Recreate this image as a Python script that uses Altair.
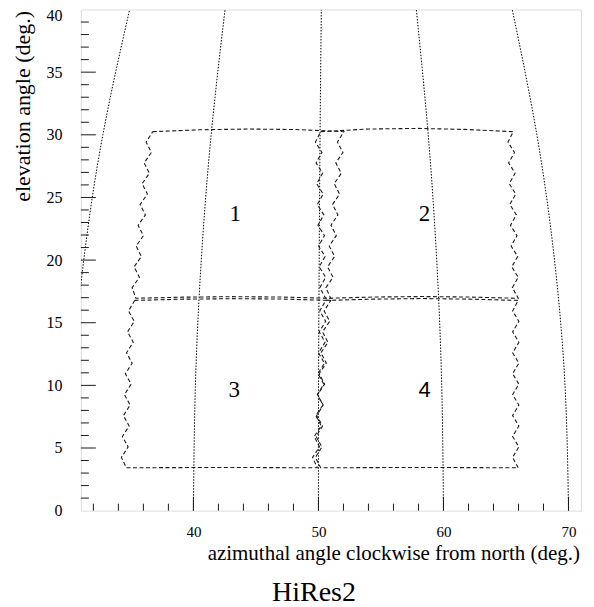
import altair as alt
import pandas as pd

# ---------------- data ----------------
# dotted guide curves (azimuth at given elevations)
CURVE_ELEV = [0, 10, 20, 30, 40]
CURVE_30 = [30.0, 30.31, 31.23, 32.76, 34.90]
CURVE_40 = [40.0, 40.16, 40.63, 41.42, 42.53]
CURVE_50 = [50.0, 50.01, 50.06, 50.13, 50.23]
CURVE_60 = [60.0, 59.86, 59.46, 58.78, 57.83]
CURVE_70 = [70.0, 69.72, 68.88, 67.47, 65.50]

# mirror field-of-view outlines (zig-zag side edges)
UPPER_ELEV = [30.25, 29.42, 28.59, 27.76, 26.93, 26.10, 25.27, 24.44, 23.61,
              22.78, 21.95, 21.12, 20.29, 19.46, 18.63, 17.80, 16.95]
LOWER_ELEV = [16.78, 15.94, 15.11, 14.27, 13.44, 12.60, 11.77, 10.93, 10.10,
              9.26, 8.43, 7.59, 6.76, 5.92, 5.09, 4.25, 3.42]

BOX1_LEFT = [36.75, 36.22, 36.64, 36.06, 36.48, 35.90, 36.32, 35.74, 36.16,
             35.58, 36.00, 35.42, 35.84, 35.26, 35.68, 35.10, 35.40]
BOX1_RIGHT = [52.04, 51.52, 51.96, 51.39, 51.83, 51.26, 51.69, 51.13, 51.56,
              51.00, 51.43, 50.86, 51.30, 50.73, 51.17, 50.60, 50.98]
BOX2_LEFT = [50.18, 49.76, 50.28, 49.81, 50.33, 49.86, 50.38, 49.91, 50.43,
             49.96, 50.48, 50.01, 50.53, 50.06, 50.58, 50.11, 50.58]
BOX2_RIGHT = [65.58, 65.16, 65.68, 65.21, 65.73, 65.26, 65.78, 65.31, 65.83,
              65.36, 65.88, 65.41, 65.93, 65.46, 65.98, 65.51, 65.98]
BOX3_LEFT = [35.30, 34.81, 35.27, 34.73, 35.19, 34.65, 35.10, 34.56, 35.02,
             34.48, 34.94, 34.40, 34.86, 34.32, 34.78, 34.24, 34.64]
BOX3_RIGHT = [50.98, 50.46, 50.90, 50.33, 50.76, 50.20, 50.63, 50.06, 50.49,
              49.93, 50.36, 49.79, 50.23, 49.66, 50.09, 49.53, 49.91]
BOX4_LEFT = [50.58, 50.11, 50.58, 50.06, 50.53, 50.01, 50.48, 49.96, 50.43,
             49.91, 50.38, 49.86, 50.33, 49.81, 50.28, 49.76, 50.18]
BOX4_RIGHT = [65.98, 65.53, 66.03, 65.53, 66.03, 65.53, 66.03, 65.53, 66.03,
              65.53, 66.03, 65.53, 66.03, 65.53, 66.03, 65.53, 65.98]

BOX1_TOP_AZ, BOX1_TOP_EL = [40.5, 44.4, 48.2], [30.40, 30.46, 30.42]
BOX1_BOT_AZ, BOX1_BOT_EL = [39.2, 43.1, 47.0], [17.04, 17.08, 17.05]
BOX2_TOP_AZ, BOX2_TOP_EL = [54.0, 57.9, 61.7], [30.46, 30.51, 30.43]
BOX2_BOT_AZ, BOX2_BOT_EL = [54.4, 58.3, 62.1], [17.05, 17.09, 17.05]
BOX3_TOP_AZ, BOX3_TOP_EL = [39.2, 43.1, 47.0], [16.88, 16.92, 16.89]
BOX3_BOT_AZ, BOX3_BOT_EL = [42.3], [3.45]
BOX4_TOP_AZ, BOX4_TOP_EL = [54.4, 58.3, 62.1], [16.88, 16.93, 16.88]
BOX4_BOT_AZ, BOX4_BOT_EL = [58.1], [3.45]

# mirror numbers
NUM_TEXT = ["1", "2", "3", "4"]
NUM_AZ = [43.35, 58.49, 43.27, 58.49]
NUM_EL = [23.14, 23.14, 9.09, 9.09]
NUM_SANS = [False, False, False, True]

# axis ticks / labels
X_LABELS = [40, 50, 60, 70]
X_MAJOR = [40, 50, 60, 70]
X_MINOR = [32, 34, 36, 38, 42, 44, 46, 48, 52, 54, 56, 58, 62, 64, 66, 68]
Y_LABELS = [0, 5, 10, 15, 20, 25, 30, 35, 40]
Y_MAJOR = [5, 10, 15, 20, 25, 30, 35]
Y_MINOR = [1, 2, 3, 4, 6, 7, 8, 9, 11, 12, 13, 14, 16, 17, 18, 19, 21, 22, 23,
           24, 26, 27, 28, 29, 31, 32, 33, 34, 36, 37, 38, 39]

# ---------------- build tables ----------------
curve_rows = []
for name, xs in [("30", CURVE_30), ("40", CURVE_40), ("50", CURVE_50),
                 ("60", CURVE_60), ("70", CURVE_70)]:
    for i, (a, e) in enumerate(zip(xs, CURVE_ELEV)):
        curve_rows.append({"curve": name, "idx": i, "az": a, "elev": e})
curve_df = pd.DataFrame(curve_rows)


def ring(left, right, elev, taz, tel, baz, bel):
    pts = [(left[0], elev[0])]
    pts += list(zip(taz, tel))
    pts += list(zip(right, elev))
    pts += list(zip(baz[::-1], bel[::-1]))
    pts += list(zip(left[::-1], elev[::-1]))
    return pts


box_rows = []
boxes = [
    ("1", ring(BOX1_LEFT, BOX1_RIGHT, UPPER_ELEV, BOX1_TOP_AZ, BOX1_TOP_EL, BOX1_BOT_AZ, BOX1_BOT_EL)),
    ("2", ring(BOX2_LEFT, BOX2_RIGHT, UPPER_ELEV, BOX2_TOP_AZ, BOX2_TOP_EL, BOX2_BOT_AZ, BOX2_BOT_EL)),
    ("3", ring(BOX3_LEFT, BOX3_RIGHT, LOWER_ELEV, BOX3_TOP_AZ, BOX3_TOP_EL, BOX3_BOT_AZ, BOX3_BOT_EL)),
    ("4", ring(BOX4_LEFT, BOX4_RIGHT, LOWER_ELEV, BOX4_TOP_AZ, BOX4_TOP_EL, BOX4_BOT_AZ, BOX4_BOT_EL)),
]
for name, pts in boxes:
    for i, (a, e) in enumerate(pts):
        box_rows.append({"box": name, "idx": i, "az": a, "elev": e})
box_df = pd.DataFrame(box_rows)

num_df = pd.DataFrame({"t": NUM_TEXT, "az": NUM_AZ, "elev": NUM_EL, "sans": NUM_SANS})

# ---------------- chart ----------------
W, H = 501, 502
SERIF = "Liberation Serif"
INK = "#1a1a1a"

xs = alt.Scale(domain=[31, 71], nice=False, zero=False)
ys = alt.Scale(domain=[0, 40], nice=False, zero=False)

x_axis = alt.Axis(
    values=X_LABELS, ticks=False, tickSize=0, domain=False, grid=False,
    labelFont=SERIF, labelFontSize=15, labelColor="black",
    labelPadding=26, labelBaseline="alphabetic",
    title="azimuthal angle clockwise from north (deg.)",
    titleFont=SERIF, titleFontSize=21, titleFontWeight="normal", titleColor="black",
    titleAlign="right", titleBaseline="alphabetic", titleX=W - 1.5, titleY=49,
)
y_axis = alt.Axis(
    values=Y_LABELS, ticks=False, tickSize=0, domain=False, grid=False,
    labelFont=SERIF, labelFontSize=16, labelColor="black", labelPadding=19,
    labelOffset={"condition": {"test": "datum.value == 40", "value": 6}, "value": 0},
    title="elevation angle (deg.)",
    titleFont=SERIF, titleFontSize=22, titleFontWeight="normal", titleColor="black",
    titleAngle=270, titleAlign="right", titleBaseline="alphabetic",
    titleX=-51, titleY=1,
)

X = alt.X("az:Q", scale=xs, axis=x_axis)
Y = alt.Y("elev:Q", scale=ys, axis=y_axis)

curves = alt.Chart(curve_df).mark_line(
    color="black", strokeWidth=1, strokeDash=[1.5, 1.5], interpolate="natural", clip=True
).encode(x=X, y=Y, detail="curve:N", order="idx:Q")

outlines = alt.Chart(box_df).mark_line(
    color=INK, strokeWidth=1.1, strokeDash=[4, 2.5], clip=True
).encode(x=X, y=Y, detail="box:N", order="idx:Q")

nums_serif = alt.Chart(num_df).transform_filter("!datum.sans").mark_text(
    font=SERIF, fontSize=23, fontWeight="normal", color="black",
    baseline="alphabetic", align="center"
).encode(x=X, y=Y, text="t:N")
nums_sans = alt.Chart(num_df).transform_filter("datum.sans").mark_text(
    font="Liberation Sans", fontSize=22, fontWeight="normal", color="black",
    baseline="alphabetic", align="center"
).encode(x=X, y=Y, text="t:N")

xmaj = alt.Chart(pd.DataFrame({"az": X_MAJOR})).mark_rule(color=INK, strokeWidth=1).encode(
    x=X, y=alt.value(H), y2=alt.value(H - 14))
xmin = alt.Chart(pd.DataFrame({"az": X_MINOR})).mark_rule(color=INK, strokeWidth=1).encode(
    x=X, y=alt.value(H), y2=alt.value(H - 7))
ymaj = alt.Chart(pd.DataFrame({"elev": Y_MAJOR})).mark_rule(color=INK, strokeWidth=1).encode(
    y=Y, x=alt.value(0), x2=alt.value(15))
ymin = alt.Chart(pd.DataFrame({"elev": Y_MINOR})).mark_rule(color=INK, strokeWidth=1).encode(
    y=Y, x=alt.value(0), x2=alt.value(8))

chart = alt.layer(curves, outlines, nums_serif, nums_sans, xmaj, xmin, ymaj, ymin).properties(
    width=W, height=H,
    autosize=alt.AutoSizeParams(type="none"),
    padding={"left": 73, "top": 1, "right": 5, "bottom": 95},
    title=alt.TitleParams(
        text="HiRes2", orient="bottom", anchor="middle", frame="group",
        font=SERIF, fontSize=28, fontWeight="normal", color="black",
        baseline="alphabetic", offset=38, dx=-17,
    ),
).configure_view(stroke=INK, strokeWidth=1.5).configure(background="white")

chart.save("out.html", embed_options={"renderer": "svg", "actions": False})
